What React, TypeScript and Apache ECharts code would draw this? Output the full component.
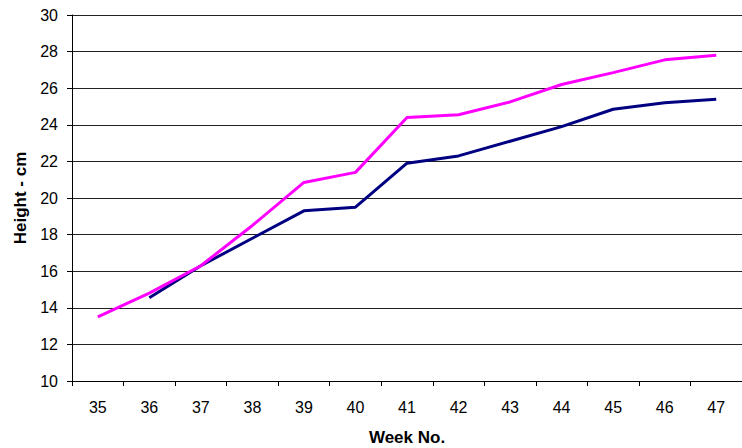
import React, { useEffect, useRef } from "react";
import * as echarts from "echarts";

const weeks = ["35", "36", "37", "38", "39", "40", "41", "42", "43", "44", "45", "46", "47"];
const magentaSeries = [13.5, 14.8, 16.3, 18.5, 20.85, 21.4, 24.4, 24.55, 25.25, 26.2, 26.85, 27.55, 27.8];
const navySeries = [null, 14.55, 16.3, 17.8, 19.3, 19.5, 21.9, 22.3, 23.1, 23.9, 24.85, 25.2, 25.4];

export default function App() {
  const ref = useRef<HTMLDivElement>(null);
  useEffect(() => {
    const chart = echarts.init(ref.current!, null, { renderer: "svg" });
    const font = "'Liberation Sans', Arial, sans-serif";
    chart.setOption({
      animation: false,
      backgroundColor: "#ffffff",
      grid: {
        left: 72,
        top: 15,
        width: 670,
        height: 366,
        containLabel: false,
        outerBoundsMode: "none",
      },
      xAxis: {
        type: "category",
        data: weeks,
        boundaryGap: true,
        name: "Week No.",
        nameLocation: "middle",
        nameGap: 48,
        nameTextStyle: { fontFamily: font, fontSize: 17, fontWeight: "bold", color: "#000" },
        axisLine: { lineStyle: { color: "#000", width: 1 } },
        axisTick: { show: true, length: 5, lineStyle: { color: "#000" } },
        axisLabel: { fontFamily: font, fontSize: 16, color: "#000", margin: 18 },
        splitLine: { show: false },
      },
      yAxis: {
        type: "value",
        min: 10,
        max: 30,
        interval: 2,
        name: "Height - cm",
        nameLocation: "middle",
        nameGap: 43,
        nameTextStyle: { fontFamily: font, fontSize: 17, fontWeight: "bold", color: "#000" },
        axisLine: { show: true, lineStyle: { color: "#000", width: 1 } },
        axisTick: { show: true, length: 5, lineStyle: { color: "#000" } },
        axisLabel: { fontFamily: font, fontSize: 16, color: "#000", margin: 14 },
        splitLine: { show: true, lineStyle: { color: "#222", width: 1 } },
      },
      series: [
        {
          type: "line",
          data: navySeries,
          symbol: "none",
          connectNulls: false,
          lineStyle: { color: "#000080", width: 3 },
          itemStyle: { color: "#000080" },
        },
        {
          type: "line",
          data: magentaSeries,
          symbol: "none",
          lineStyle: { color: "#ff00ff", width: 3 },
          itemStyle: { color: "#ff00ff" },
        },
      ],
    });
    return () => chart.dispose();
  }, []);
  return (
    <div
      ref={ref}
      style={{ position: "fixed", left: 0, top: 0, width: 742, height: 448 }}
    />
  );
}
